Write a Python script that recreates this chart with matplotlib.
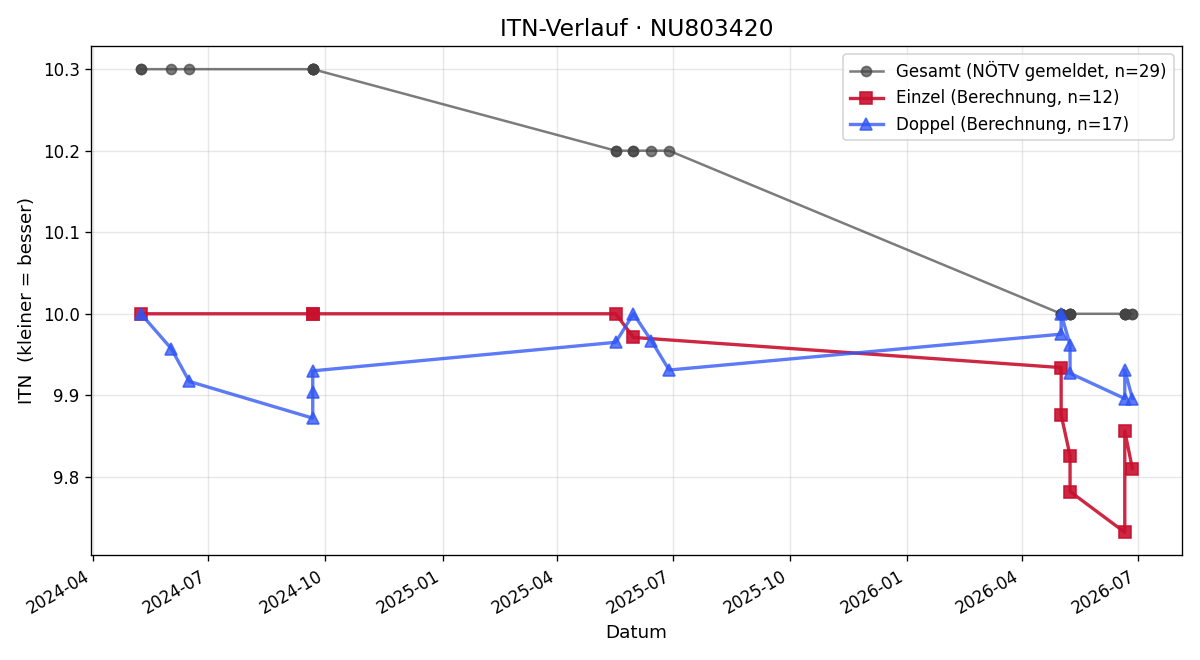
import pandas as pd
import matplotlib.pyplot as plt
import matplotlib.dates as mdates

# ITN Verlauf
einzel_datum = ["2024-05-09", "2024-09-21", "2024-09-21", "2025-05-17", "2025-05-31",
                "2026-05-02", "2026-05-02", "2026-05-09", "2026-05-09",
                "2026-06-21", "2026-06-21", "2026-06-27"]
einzel_itn = [10.0, 10.0, 10.0, 10.0, 9.971,
              9.934, 9.876, 9.826, 9.782,
              9.732, 9.856, 9.810]

doppel_datum = ["2024-05-09", "2024-06-02", "2024-06-16", "2024-09-21", "2024-09-21", "2024-09-21",
                "2025-05-17", "2025-05-31", "2025-06-14", "2025-06-28",
                "2026-05-02", "2026-05-02", "2026-05-09", "2026-05-09",
                "2026-06-21", "2026-06-21", "2026-06-27"]
doppel_itn = [10.0, 9.957, 9.917, 9.872, 9.904, 9.930,
              9.965, 10.0, 9.967, 9.931,
              9.975, 10.0, 9.962, 9.927,
              9.896, 9.931, 9.896]

# gemeldeter Wert (NÖTV) pro Spieltag
gesamt_datum = sorted(einzel_datum + doppel_datum)
gesamt_itn = []
for d in gesamt_datum:
    if d.startswith("2024"):
        gesamt_itn.append(10.3)
    elif d.startswith("2025"):
        gesamt_itn.append(10.2)
    else:
        gesamt_itn.append(10.0)

fig, ax = plt.subplots(figsize=(10, 5.5), dpi=120)

ax.plot(pd.to_datetime(gesamt_datum), gesamt_itn, marker="o", color="#444444", alpha=0.7,
        linewidth=1.5, markersize=6, label="Gesamt (NÖTV gemeldet, n=%d)" % len(gesamt_datum))
ax.plot(pd.to_datetime(einzel_datum), einzel_itn, marker="s", color="#c8102e", alpha=0.9,
        linewidth=2, markersize=7, label="Einzel (Berechnung, n=%d)" % len(einzel_datum))
ax.plot(pd.to_datetime(doppel_datum), doppel_itn, marker="^", color="#2f55f5", alpha=0.78,
        linewidth=2, markersize=7, label="Doppel (Berechnung, n=%d)" % len(doppel_datum))

ax.set_title("ITN-Verlauf · NU803420", fontsize=14)
ax.set_xlabel("Datum", fontsize=11)
ax.set_ylabel("ITN  (kleiner = besser)", fontsize=11)
ax.xaxis.set_major_locator(mdates.MonthLocator(bymonth=[1, 4, 7, 10]))
ax.xaxis.set_major_formatter(mdates.DateFormatter("%Y-%m"))
ax.grid(True, alpha=0.3)
ax.legend(loc="upper right")
fig.autofmt_xdate()

plt.tight_layout()
plt.savefig("out.png")
